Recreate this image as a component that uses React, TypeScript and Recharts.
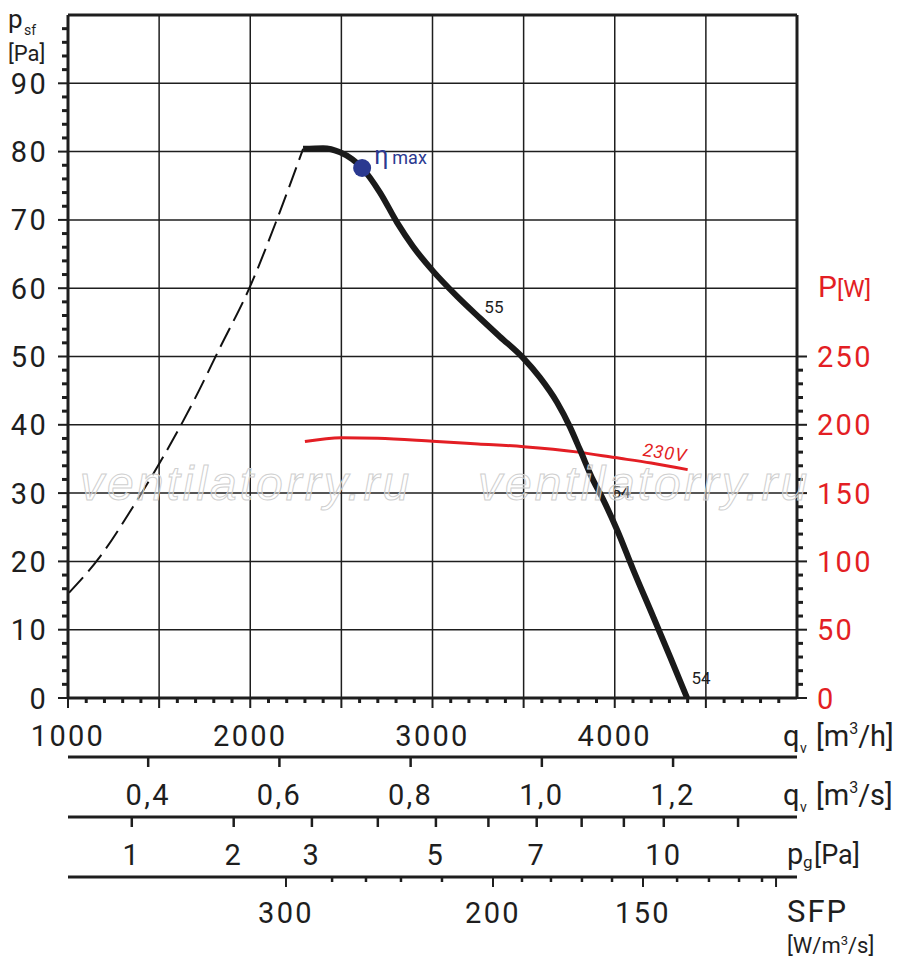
import React from "react";
import { LineChart, Line, XAxis, YAxis, CartesianGrid, ReferenceLine, ReferenceDot } from "recharts";

const FONT = "Roboto, 'DejaVu Sans', sans-serif";
const INK = "#1e1e1e";
const RED = "#e31e24";
const BLUE = "#2b3990";

// main flow axis [m3/h]
const flowTicks = Array.from({ length: 40 }, (_, i) => 1000 + i * 100);
const flowLabels = [1000, 2000, 3000, 4000];
const flowGrid = [1500, 2000, 2500, 3000, 3500, 4000, 4500];

// static pressure axis [Pa]
const psfTicks = Array.from({ length: 50 }, (_, i) => i * 2);
const psfLabels = [0, 10, 20, 30, 40, 50, 60, 70, 80, 90];
const psfGrid = [10, 20, 30, 40, 50, 60, 70, 80, 90];

// power axis [W]
const powerTicks = [...Array.from({ length: 26 }, (_, i) => i * 10), 300];
const powerLabels = [0, 50, 100, 150, 200, 250];

// secondary scales under the chart
const qvSecTicks = [0.4, 0.6, 0.8, 1.0, 1.2]; // m3/s
const pgTicks = [1, 2, 3, 4, 5, 6, 7, 8, 9, 10, 12]; // Pa
const pgLabels = [1, 2, 3, 5, 7, 10];
const PG_FLOW = 1350; // m3/h at pg = 1 Pa
const sfpTickFlow = [2196, 2449, 2635, 2827, 3052, 3332, 3491, 3650, 3820, 3985, 4155, 4342, 4517, 4682, 4808, 4885];
const sfpMajorFlow = [2196, 3332, 4155, 4885];
const sfpLabels = ["300", "200", "150"];

// unstable branch (dashed)
const stallQ = [1005, 1176, 1357, 1505, 1686, 1834, 2000, 2147, 2290];
const stallP = [15.4, 20.7, 28.0, 34.5, 43.3, 51.3, 60.3, 70.1, 80.4];

// fan curve
const fanQ = [2290, 2400, 2493, 2559, 2614, 2712, 2806, 2893, 3003, 3135, 3261, 3370, 3497, 3590, 3683, 3754, 3810, 3881, 3930, 4013, 4101, 4211, 4304, 4397];
const fanP = [80.4, 80.5, 79.9, 78.9, 77.6, 74.0, 69.6, 66.1, 62.5, 58.8, 55.6, 52.9, 49.8, 46.9, 43.3, 39.7, 36.3, 31.9, 29.4, 24.6, 18.8, 11.9, 6.0, 0];

// power input 230V
const powerQ = [2300, 2500, 2700, 3000, 3250, 3500, 3800, 4000, 4200, 4400];
const powerW = [187.7, 190.6, 190.2, 188.0, 186.0, 184.0, 180.0, 176.0, 172.0, 167.2];

const etaMax = { q: 2614, p: 77.6 };
const curveNotes = [
  { q: 3337, p: 57.2, text: "55" },
  { q: 4035, p: 30.2, text: "54" },
  { q: 4473, p: 2.9, text: "54" },
];
const voltageNote = { q: 4276, p: 35.9, text: "230V" };

const stallData = stallQ.map((q, i) => ({ q, p: stallP[i] }));
const fanData = fanQ.map((q, i) => ({ q, p: fanP[i] }));
const powerData = powerQ.map((q, i) => ({ q, w: powerW[i] }));

const numStyle = { fontFamily: FONT, fontSize: 29, letterSpacing: 2.3 };

// recharts stacks the bottom axes by id, so the ids carry the order
const AX_FLOW = "x1flow";
const AX_SEC = "x2sec";
const AX_PG = "x3pg";
const AX_SFP = "x4sfp";

function FlowTick({ x, y, payload }: any) {
  const v = payload.value;
  const major = v % 500 === 0;
  return (
    <g>
      <line x1={x} x2={x} y1={y} y2={y + (major ? 10 : 5)} stroke={INK} strokeWidth={major ? 2 : 3} />
      {flowLabels.includes(v) && (
        <text x={x} y={y + 48} textAnchor="middle" fill={INK} style={numStyle}>{v}</text>
      )}
    </g>
  );
}

function SecTick({ x, y, payload }: any) {
  const label = (payload.value / 3600).toFixed(1).replace(".", ",");
  return (
    <g>
      <line x1={x} x2={x} y1={y} y2={y + 10} stroke={INK} strokeWidth={2.5} />
      <text x={x} y={y + 48} textAnchor="middle" fill={INK} style={numStyle}>{label}</text>
    </g>
  );
}

function PgTick({ x, y, payload }: any) {
  const pg = Math.round((payload.value / PG_FLOW) ** 2);
  return (
    <g>
      <line x1={x} x2={x} y1={y} y2={y + 10} stroke={INK} strokeWidth={2.5} />
      {pgLabels.includes(pg) && (
        <text x={x} y={y + 48} textAnchor="middle" fill={INK} style={numStyle}>{pg}</text>
      )}
    </g>
  );
}

function SfpTick({ x, y, payload }: any) {
  const idx = sfpMajorFlow.indexOf(payload.value);
  const major = idx >= 0;
  return (
    <g>
      <line x1={x} x2={x} y1={y} y2={y + (major ? 10 : 5)} stroke={INK} strokeWidth={major ? 2 : 2.5} />
      {major && sfpLabels[idx] && (
        <text x={x} y={y + 46} textAnchor="middle" fill={INK} style={numStyle}>{sfpLabels[idx]}</text>
      )}
    </g>
  );
}

function PsfTick({ x, y, payload }: any) {
  const v = payload.value;
  const major = v % 10 === 0;
  return (
    <g>
      <line x1={x - (major ? 10 : 6)} x2={x} y1={y} y2={y} stroke={INK} strokeWidth={major ? 2 : 3} />
      {psfLabels.includes(v) && (
        <text x={x - 20} y={y + 10.5} textAnchor="end" fill={INK} style={numStyle}>{v}</text>
      )}
    </g>
  );
}

function PowerTick({ x, y, payload }: any) {
  const v = payload.value;
  if (v > 250) {
    return (
      <text x={x + 21} y={y + 9} fill={RED} style={{ fontFamily: FONT }}>
        <tspan fontSize={30}>P</tspan>
        <tspan fontSize={24}>[W]</tspan>
      </text>
    );
  }
  const major = v % 50 === 0;
  return (
    <g>
      <line x1={x} x2={x + (major ? 10 : 6)} y1={y} y2={y} stroke={INK} strokeWidth={major ? 2 : 3} />
      {powerLabels.includes(v) && (
        <text x={x + 20} y={y + 10.5} textAnchor="start" fill={RED} style={numStyle}>{v}</text>
      )}
    </g>
  );
}

function Watermark({ x }: { x: number }) {
  return (
    <text
      x={x}
      y={500}
      fontFamily="'Liberation Sans', Arial, sans-serif"
      fontStyle="italic"
      fontSize={48}
      letterSpacing={3}
      fill="#ffffff"
      fillOpacity={0.4}
      stroke="#cfcfcf"
      strokeWidth={1}
    >
      ventilatorry.ru
    </text>
  );
}

// shared props for the scales drawn under the plot
const scaleAxis = {
  type: "number" as const,
  dataKey: "q",
  domain: [1000, 5000],
  allowDataOverflow: true,
  interval: 0 as const,
  tickLine: false,
  tickSize: 0,
  tickMargin: 0,
  axisLine: { stroke: INK, strokeWidth: 3 },
};

export default function App() {
  return (
    <div style={{ position: "absolute", left: 0, top: 0, width: 900, height: 970, background: "#fff" }}>
      <LineChart width={900} height={970} margin={{ top: 15, right: 0, bottom: 0, left: 0 }}>
        <CartesianGrid
          xAxisId={AX_FLOW}
          yAxisId="psf"
          stroke={INK}
          strokeWidth={1.5}
          verticalValues={flowGrid}
          horizontalValues={psfGrid}
        />
        <XAxis xAxisId={AX_FLOW} {...scaleAxis} ticks={flowTicks} tick={<FlowTick />} height={59} />
        <XAxis xAxisId={AX_SEC} {...scaleAxis} ticks={qvSecTicks.map(v => v * 3600)} tick={<SecTick />} height={60} />
        <XAxis xAxisId={AX_PG} {...scaleAxis} ticks={pgTicks.map(v => PG_FLOW * Math.sqrt(v))} tick={<PgTick />} height={60} />
        <XAxis xAxisId={AX_SFP} {...scaleAxis} ticks={sfpTickFlow} tick={<SfpTick />} height={93} />
        <YAxis
          yAxisId="psf"
          type="number"
          domain={[0, 100]}
          allowDataOverflow
          ticks={psfTicks}
          interval={0}
          tick={<PsfTick />}
          tickLine={false}
          tickSize={0}
          tickMargin={0}
          axisLine={{ stroke: INK, strokeWidth: 3 }}
          width={68}
        />
        <YAxis
          yAxisId="power"
          orientation="right"
          type="number"
          domain={[0, 500]}
          allowDataOverflow
          ticks={powerTicks}
          interval={0}
          tick={<PowerTick />}
          tickLine={false}
          tickSize={0}
          tickMargin={0}
          axisLine={{ stroke: INK, strokeWidth: 3 }}
          width={103}
        />
        <ReferenceLine xAxisId={AX_FLOW} yAxisId="psf" y={100} stroke={INK} strokeWidth={3} />
        {/* the lower scales need a series bound to them so that recharts builds their ticks */}
        {[AX_SEC, AX_PG, AX_SFP].map(id => (
          <Line
            key={id}
            xAxisId={id}
            yAxisId="psf"
            data={fanData}
            dataKey="p"
            stroke="none"
            dot={false}
            activeDot={false}
            isAnimationActive={false}
            legendType="none"
          />
        ))}
        <Line
          xAxisId={AX_FLOW}
          yAxisId="psf"
          data={stallData}
          dataKey="p"
          type="monotone"
          stroke="#111"
          strokeWidth={2}
          strokeDasharray="21 8"
          dot={false}
          activeDot={false}
          isAnimationActive={false}
        />
        <Line
          xAxisId={AX_FLOW}
          yAxisId="power"
          data={powerData}
          dataKey="w"
          type="monotone"
          stroke={RED}
          strokeWidth={3}
          dot={false}
          activeDot={false}
          isAnimationActive={false}
        />
        <Line
          xAxisId={AX_FLOW}
          yAxisId="psf"
          data={fanData}
          dataKey="p"
          type="monotone"
          stroke="#1a1a1a"
          strokeWidth={6}
          dot={false}
          activeDot={false}
          isAnimationActive={false}
        />
        <ReferenceDot
          xAxisId={AX_FLOW}
          yAxisId="psf"
          x={etaMax.q}
          y={etaMax.p}
          r={9}
          shape={(props: any) => (
            <g>
              <circle cx={props.cx} cy={props.cy} r={9} fill={BLUE} />
              <text x={props.cx + 12} y={props.cy - 4} fill={BLUE} style={{ fontFamily: FONT }}>
                <tspan fontSize={25}>η</tspan>
                <tspan dx={4} fontSize={18}>max</tspan>
              </text>
            </g>
          )}
        />
        {curveNotes.map((n, i) => (
          <ReferenceDot
            key={i}
            xAxisId={AX_FLOW}
            yAxisId="psf"
            x={n.q}
            y={n.p}
            r={0}
            shape={(props: any) => (
              <text x={props.cx} y={props.cy + 6} textAnchor="middle" fill={INK} style={{ fontFamily: FONT, fontSize: 17 }}>
                {n.text}
              </text>
            )}
          />
        ))}
        <ReferenceDot
          xAxisId={AX_FLOW}
          yAxisId="psf"
          x={voltageNote.q}
          y={voltageNote.p}
          r={0}
          shape={(props: any) => (
            <text
              x={props.cx}
              y={props.cy + 6}
              textAnchor="middle"
              fill={RED}
              transform={`rotate(8 ${props.cx} ${props.cy})`}
              style={{ fontFamily: FONT, fontSize: 18, fontStyle: "italic", letterSpacing: 1 }}
            >
              {voltageNote.text}
            </text>
          )}
        />
      </LineChart>
      <svg width={900} height={970} style={{ position: "absolute", left: 0, top: 0, pointerEvents: "none" }}>
        <Watermark x={80} />
        <Watermark x={478} />
        <g fill={INK} style={{ fontFamily: FONT }}>
          <text x={8} y={28} fontSize={26}>p</text>
          <text x={24} y={35} fontSize={14}>sf</text>
          <text x={8} y={61} fontSize={22}>[Pa]</text>

          <text x={783} y={746} fontSize={29}>q</text>
          <text x={800} y={753} fontSize={14}>v</text>
          <text x={816} y={746} fontSize={29}>[m<tspan fontSize={16} dy={-12}>3</tspan><tspan dy={12}>/h]</tspan></text>

          <text x={783} y={805} fontSize={29}>q</text>
          <text x={800} y={812} fontSize={14}>v</text>
          <text x={816} y={805} fontSize={29}>[m<tspan fontSize={16} dy={-12}>3</tspan><tspan dy={12}>/s]</tspan></text>

          <text x={787} y={864} fontSize={29}>p</text>
          <text x={803} y={868} fontSize={17}>g</text>
          <text x={814} y={864} fontSize={27}>[Pa]</text>

          <text x={787} y={922} fontSize={31} letterSpacing={2}>SFP</text>
          <text x={787} y={953} fontSize={22}>[W/m<tspan fontSize={13} dy={-8}>3</tspan><tspan dy={8}>/s]</tspan></text>
        </g>
      </svg>
    </div>
  );
}
